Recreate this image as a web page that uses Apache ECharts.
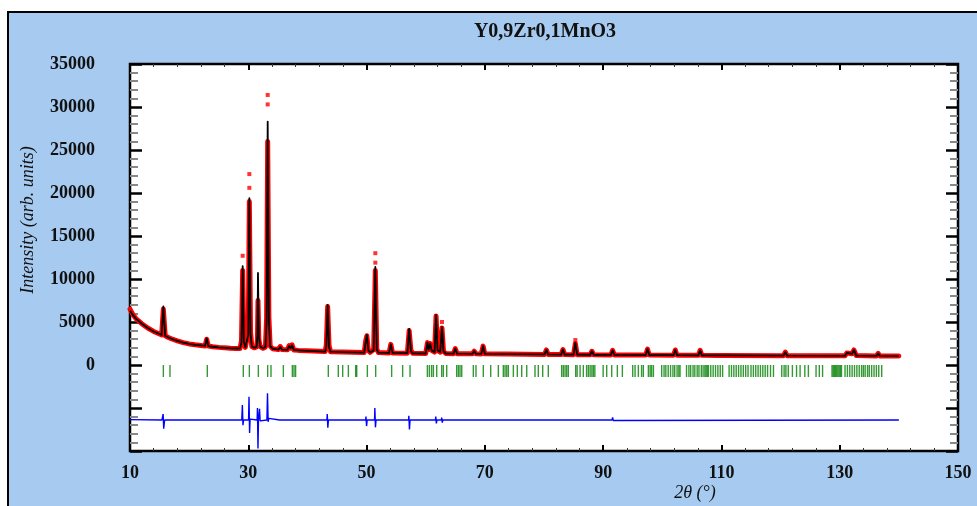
<!DOCTYPE html>
<html>
<head>
<meta charset="utf-8">
<title>Y0,9Zr0,1MnO3</title>
<script src="https://cdn.jsdelivr.net/npm/echarts/dist/echarts.min.js"></script>
<style>
  html, body { margin: 0; padding: 0; background: #fff; }
  #frame {
    position: absolute; left: 7px; top: 11px; width: 970px; height: 495px;
    background: #a6caf0; border-left: 2px solid #000; border-top: 2px solid #000;
    box-sizing: border-box;
  }
  #main { position: absolute; left: 0; top: 0; width: 977px; height: 506px; }
</style>
</head>
<body>
<div id="frame"></div>
<div id="main"></div>
<script>
// 2theta points of the profile (deg)
var theta = [10, 10.5, 11, 12, 13, 14, 15, 15.35, 15.64, 15.95,
  16.5, 17, 18, 19, 20, 21, 22, 22.7, 22.96, 23.25,
  24, 25, 26, 27, 28, 28.6, 28.85, 29.05, 29.25, 29.5,
  29.8, 30.0, 30.18, 30.38, 30.6, 31.0, 31.4, 31.55, 31.64, 31.78,
  32.0, 32.5, 32.9, 33.1, 33.28, 33.48, 33.7, 34.1, 35.1, 35.4,
  35.7, 36.6, 36.9, 37.15, 37.4, 37.7, 38.5, 40, 43, 43.2,
  43.42, 43.65, 43.9, 46, 49.6, 49.85, 50.05, 50.3, 50.6, 51.2,
  51.48, 51.72, 52, 53.8, 54.1, 54.4, 56.9, 57.2, 57.5, 57.8,
  60, 60.3, 60.5, 60.75, 61.0, 61.5, 61.75, 62.0, 62.45, 62.75,
  63.0, 63.4, 64.7, 65.0, 65.3, 67.9, 68.2, 68.5, 69.4, 69.7,
  70.0, 73.2, 73.5, 73.8, 80.1, 80.4, 80.7, 82.9, 83.2, 83.5,
  85.0, 85.3, 85.6, 87.8, 88.1, 88.4, 91.3, 91.6, 91.9, 97.2,
  97.5, 97.8, 101.9, 102.2, 102.5, 106.1, 106.4, 106.7, 109.3, 109.6,
  109.9, 120.5, 120.8, 121.1, 130.9, 131.2, 131.5, 132.1, 132.4, 132.8,
  136.2, 136.5, 136.8, 140]

// calculated intensity
var yCalc = [6300, 5800, 5400, 4800, 4300, 3900, 3600, 3500, 6800, 3400,
  3200, 3050, 2800, 2600, 2450, 2350, 2270, 2220, 3100, 2200,
  2120, 2050, 2000, 1950, 1920, 1930, 2600, 11500, 2700, 2050,
  2150, 3500, 19400, 3600, 2150, 2000, 2100, 3500, 10700, 3400,
  2150, 1950, 2100, 5000, 28300, 5200, 2200, 1900, 1800, 2100,
  1790, 1760, 2200, 1950, 2300, 1750, 1700, 1650, 1560, 2200,
  7000, 2100, 1550, 1500, 1450, 2700, 3500, 1700, 1460, 1700,
  11400, 1800, 1440, 1400, 2400, 1400, 1380, 4200, 1600, 1360,
  1340, 2600, 1800, 2500, 1700, 1500, 5800, 1700, 1500, 4400,
  1600, 1340, 1320, 1900, 1320, 1300, 1600, 1300, 1290, 2200,
  1300, 1270, 1450, 1270, 1230, 1750, 1230, 1210, 1800, 1210,
  1200, 2600, 1200, 1190, 1600, 1190, 1170, 1700, 1170, 1150,
  1850, 1150, 1140, 1750, 1140, 1120, 1700, 1120, 1110, 1300,
  1110, 1080, 1500, 1080, 1070, 1400, 1250, 1300, 1750, 1100,
  1050, 1350, 1050, 1040]

// observed intensity (band)
var yObs = [6500, 5850, 5400, 4800, 4300, 3900, 3600, 3500, 6500, 3400,
  3200, 3050, 2800, 2600, 2450, 2350, 2270, 2220, 3000, 2200,
  2120, 2050, 2000, 1950, 1920, 1930, 2800, 11000, 2800, 2050,
  2150, 3800, 19000, 3800, 2150, 2000, 2100, 3000, 7500, 3000,
  2150, 1950, 2100, 5500, 26000, 5600, 2200, 1900, 1800, 2150,
  1790, 1760, 2250, 1950, 2350, 1750, 1700, 1650, 1560, 2400,
  6800, 2300, 1550, 1500, 1450, 2800, 3400, 1700, 1460, 1800,
  11000, 1900, 1440, 1400, 2400, 1400, 1380, 4000, 1700, 1360,
  1340, 2600, 1800, 2500, 1700, 1500, 5700, 1700, 1500, 4300,
  1600, 1340, 1320, 1900, 1320, 1300, 1600, 1300, 1290, 2200,
  1300, 1270, 1450, 1270, 1230, 1750, 1230, 1210, 1800, 1210,
  1200, 2500, 1200, 1190, 1600, 1190, 1170, 1700, 1170, 1150,
  1850, 1150, 1140, 1750, 1140, 1120, 1700, 1120, 1110, 1300,
  1110, 1080, 1500, 1080, 1070, 1400, 1250, 1300, 1750, 1100,
  1050, 1350, 1050, 1040]

// single observed points standing out above the peaks
var obsDots = [[29.05, 12700], [30.18, 20600], [30.18, 22200], [33.28, 30300],
  [33.28, 31400], [51.48, 11900], [51.48, 13000], [62.75, 5000], [85.3, 2900]]

// difference curve (Yobs - Ycalc, shifted)
var diffPts = [[10, -6350], [15.4, -6400], [15.6, -5700], [15.7, -7400], [15.85, -6400],
  [22.9, -6400], [23.0, -6250], [23.05, -6600], [23.1, -6400], [28.9, -6400], [29.0, -4650],
  [29.1, -7000], [29.2, -6400], [30.05, -6400], [30.12, -3700], [30.22, -7900],
  [30.3, -6300], [31.5, -6400], [31.55, -5000], [31.64, -9700], [31.72, -6400],
  [31.9, -5100], [32.0, -6500], [32.1, -6400], [33.15, -6400], [33.25, -3300],
  [33.35, -6600], [33.45, -6200], [33.6, -6400], [35.3, -6400], [35.4, -6200],
  [35.5, -6500], [35.6, -6400], [43.3, -6400], [43.35, -5700], [43.45, -7300],
  [43.55, -6400], [49.85, -6400], [49.9, -6000], [50.0, -7100], [50.1, -6400],
  [51.35, -6400], [51.4, -5000], [51.5, -7250], [51.6, -6400], [57.1, -6400],
  [57.15, -5900], [57.25, -7500], [57.35, -6400], [61.65, -6400], [61.7, -6000],
  [61.8, -6800], [61.9, -6400], [62.65, -6400], [62.7, -6100], [62.8, -6700],
  [62.9, -6400], [85.2, -6400], [85.3, -6200], [85.4, -6500], [85.5, -6400],
  [91.5, -6400], [91.6, -6100], [91.7, -6450], [91.8, -6400], [140, -6400]]

// Bragg reflection positions (2theta)
var bragg = [15.64, 16.76, 23.07, 29.16, 30.18, 31.7, 33.28, 33.84, 35.93, 37.45,
  37.73, 38.0, 43.53, 45.22, 45.96, 46.92, 48.16, 48.33, 50.13, 51.54,
  54.24, 56.1, 57.35, 60.28, 60.62, 61.0, 61.3, 61.86, 62.7, 62.98,
  63.55, 65.24, 65.52, 65.8, 66.09, 68.05, 68.5, 69.74, 70.99, 72.28,
  73.12, 73.41, 73.7, 73.97, 74.82, 75.49, 76.23, 77.08, 78.48, 79.04,
  79.78, 80.73, 82.99, 83.27, 83.56, 83.84, 84.11, 85.36, 85.6, 86.1,
  86.65, 87.2, 87.5, 87.8, 88.1, 88.35, 88.6, 90.0, 90.6, 91.45,
  92.4, 93.25, 95.0, 95.4, 95.95, 96.5, 96.8, 97.65, 97.95, 98.2,
  98.5, 99.9, 100.3, 100.6, 101.0, 101.4, 101.8, 102.1, 102.5, 102.8,
  103.0, 104.1, 104.5, 104.8, 105.2, 105.5, 105.9, 106.2, 106.6, 106.9,
  107.2, 107.4, 107.6, 107.8, 108.2, 108.6, 109.0, 109.4, 109.8, 110.2,
  111.3, 111.7, 112.1, 112.5, 112.9, 113.3, 113.7, 114.1, 114.5, 115.0,
  115.4, 115.8, 116.2, 116.6, 117.0, 117.4, 117.8, 118.3, 118.8, 120.2,
  120.6, 120.9, 121.3, 122.0, 122.7, 123.3, 124.1, 124.7, 126.0, 126.55,
  127.1, 128.7, 128.9, 129.1, 129.3, 129.5, 129.7, 129.9, 130.1, 130.3,
  130.9, 131.3, 131.7, 132.1, 132.5, 132.9, 133.3, 133.7, 134.0, 134.3,
  134.7, 135.0, 135.4, 135.8, 136.2, 136.6, 137.1]
var braggLevel = -700

var myChart = echarts.init(document.getElementById('main'))

var serif = '"Liberation Serif", "Times New Roman", serif'
var tickLabel = { fontFamily: serif, fontWeight: 'bold', fontSize: 18, color: '#111' }

function xAxisOpt(pos) {
  return {
    type: 'value', position: pos, min: 10, max: 150, interval: 20,
    axisLine: { show: false, onZero: false },
    axisTick: { show: true, inside: true, length: 6, lineStyle: { color: '#000', width: 2 } },
    minorTick: { show: true, splitNumber: 5, length: 3, lineStyle: { color: '#333', width: 1 } },
    splitLine: { show: false },
    axisLabel: pos === 'bottom' ? Object.assign({ margin: 13 }, tickLabel) : { show: false },
  }
}
function yAxisOpt(pos) {
  return {
    type: 'value', position: pos, min: -10000, max: 35000, interval: 5000,
    axisLine: { show: false, onZero: false },
    axisTick: { show: true, inside: true, length: 12, lineStyle: { color: '#000', width: 2.5 } },
    minorTick: { show: true, splitNumber: 5, length: 8, lineStyle: { color: '#888', width: 2 } },
    splitLine: { show: false },
    axisLabel: pos === 'left' ? Object.assign({
      margin: 35,
      formatter: function (v) { return v < 0 ? '' : String(v) },
    }, tickLabel) : { show: false },
  }
}

var option = {
  animation: false,
  backgroundColor: 'transparent',
  grid: {
    left: 130, top: 64, right: 19, bottom: 55,
    show: true, backgroundColor: '#fff', borderColor: '#000', borderWidth: 2.5,
  },
  xAxis: [xAxisOpt('bottom'), xAxisOpt('top')],
  yAxis: [yAxisOpt('left'), yAxisOpt('right')],
  graphic: [
    { type: 'text', x: 545, y: 32, style: { text: 'Y0,9Zr0,1MnO3', align: 'center', verticalAlign: 'middle',
      font: 'bold 20px ' + serif, fill: '#111' } },
    { type: 'text', x: 28, y: 220, rotation: Math.PI / 2, style: { text: 'Intensity (arb. units)',
      align: 'center', verticalAlign: 'middle', font: 'italic 18px ' + serif, fill: '#111' } },
    { type: 'text', x: 695, y: 493, style: { text: '2θ (°)', align: 'center', verticalAlign: 'middle',
      font: 'italic 18px ' + serif, fill: '#111' } },
  ],
  series: [
    {
      type: 'line', silent: true, symbol: 'none', z: 2,
      data: theta.map(function (t, i) { return [t, yObs[i]] }),
      lineStyle: { color: '#ff0000', width: 5, join: 'round', cap: 'round' },
    },
    {
      type: 'scatter', silent: true, symbol: 'rect', symbolSize: 4, z: 4,
      data: obsDots, itemStyle: { color: '#ff0000' },
    },
    {
      type: 'line', silent: true, symbol: 'none', z: 3,
      data: theta.map(function (t, i) { return [t, yCalc[i]] }),
      lineStyle: { color: '#000', width: 1.8, join: 'round' },
    },
    {
      type: 'line', silent: true, symbol: 'none', z: 3,
      data: diffPts, lineStyle: { color: '#0000ff', width: 1.4 },
    },
    {
      type: 'scatter', silent: true, symbol: 'rect', symbolSize: [1.4, 12], z: 3,
      data: bragg.map(function (t) { return [t, braggLevel] }),
      itemStyle: { color: '#008000' },
    },
  ],
}
myChart.setOption(option)
</script>
</body>
</html>
